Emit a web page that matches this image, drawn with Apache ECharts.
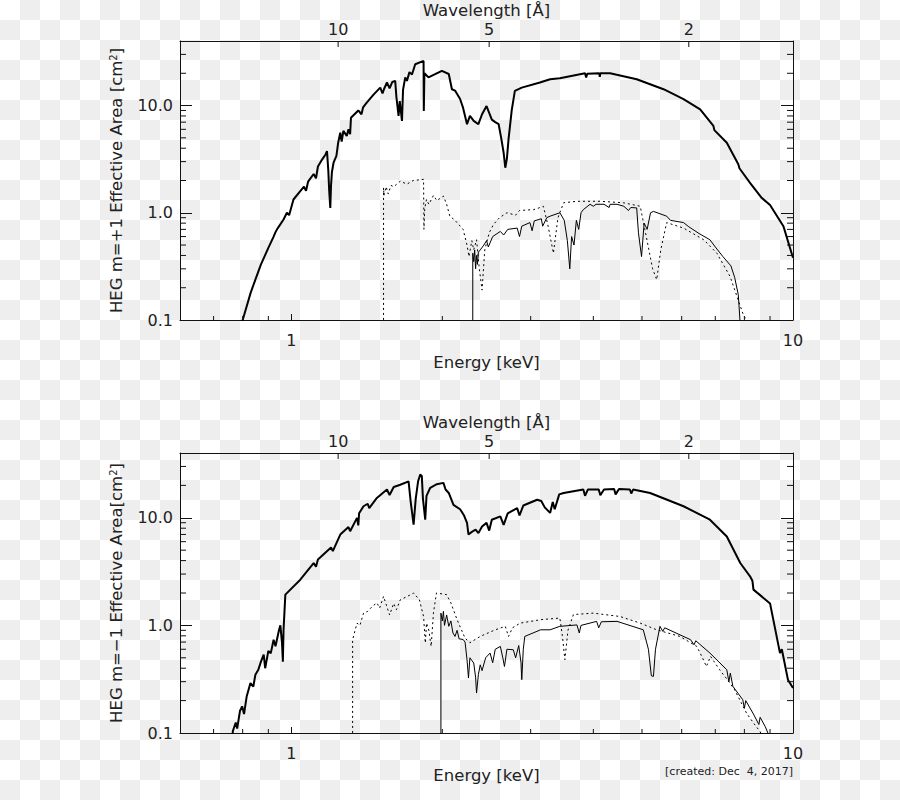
<!DOCTYPE html>
<html><head><meta charset="utf-8">
<script src="https://cdn.jsdelivr.net/npm/echarts@6/dist/echarts.min.js"></script>
<style>
html,body{margin:0;padding:0;}
body{width:900px;height:800px;background-color:#fff;background-image:conic-gradient(#eee 0 25%, #fff 0 50%, #eee 0 75%, #fff 0);background-size:40px 40px;}
#chart{width:900px;height:800px;}
</style></head><body><div id="chart"></div>
<script>
// ---------------- data ----------------
const HC = 12.398; // keV * Angstrom
const X_MIN = 0.6, X_MAX = 10, Y_MIN = 0.1, Y_MAX = 40;
const wavelengthTicks = [10, 5, 2];
const xMinorTicks = [0.7, 0.8, 0.9, 2, 3, 4, 5, 6, 7, 8, 9];
const yMinorTicks = [0.2,0.3,0.4,0.5,0.6,0.7,0.8,0.9,2,3,4,5,6,7,8,9,20,30];

// Panel 1 (m=+1) thick curve
const p1ThickE = [0.795,0.80,0.83,0.848,0.87,0.90,0.922,0.93,0.94,0.965,0.98,0.99,1.01,1.042,1.06,1.07,1.08,1.108,1.12,1.13,1.15,1.17,1.178,1.185,1.19,1.196,1.20,1.205,1.214,1.23,1.24,1.252,1.26,1.27,1.29,1.30,1.31,1.315,1.36,1.38,1.39,1.415,1.46,1.504,1.52,1.53,1.551,1.57,1.59,1.611,1.62,1.636,1.645,1.662,1.67,1.687,1.70,1.72,1.74,1.766,1.835,1.837,1.842,1.877,1.93,1.996,2.06,2.09,2.12,2.17,2.20,2.24,2.27,2.31,2.36,2.40,2.45,2.51,2.55,2.59,2.62,2.65,2.67,2.69,2.71,2.75,2.79,2.88,3.13,3.28,3.43,3.85,3.87,3.89,4.11,4.12,4.13,4.32,4.88,5.52,6.05,6.53,6.94,6.97,7.38,7.78,7.82,8.21,8.66,9.0,9.57,10.0];
const p1ThickA = [0.09,0.10,0.18,0.238,0.33,0.47,0.60,0.66,0.72,0.866,1.0,0.95,1.33,1.59,1.75,1.6,1.95,2.3,2.1,2.7,3.1,3.5,3.76,2.5,1.6,1.11,1.8,2.4,2.93,3.4,4.5,5.59,4.6,5.8,5.2,6.0,5.4,7.7,9.0,8.3,9.6,10.7,12.7,14.7,13.0,14.2,16.4,14.5,16.6,17.0,12.0,8.0,11.0,7.2,14.0,18.3,17.0,20.5,19.5,24.3,26.1,8.9,20.0,18.3,19.5,21.1,19.7,14.2,13.8,11.5,9.5,6.7,8.0,7.2,6.7,8.3,9.9,7.4,7.0,6.7,5.0,3.63,2.63,3.2,4.84,9.0,13.7,14.7,16.4,17.6,18.0,20.0,18.3,19.8,20.0,18.5,20.0,20.0,17.6,14.2,11.5,9.2,6.45,5.9,4.5,2.83,2.6,1.9,1.38,1.18,0.75,0.38];
// Panel 1 thin curve
const p1ThinE = [2.30,2.30,2.31,2.32,2.33,2.34,2.35,2.36,2.38,2.42,2.45,2.47,2.52,2.61,2.65,2.70,2.82,2.85,2.88,2.99,3.02,3.05,3.15,3.17,3.23,3.28,3.43,3.50,3.55,3.59,3.62,3.66,3.70,3.74,3.78,3.82,3.94,4.0,4.05,4.20,4.30,4.32,4.46,4.60,4.70,4.75,4.88,4.92,4.99,5.05,5.12,5.20,5.27,5.60,5.70,6.05,6.20,6.50,6.83,7.0,7.25,7.52,7.65,7.78,7.85];
const p1ThinA = [0.09,0.42,0.35,0.45,0.30,0.40,0.33,0.43,0.45,0.50,0.55,0.48,0.60,0.67,0.62,0.70,0.72,0.60,0.75,0.81,0.68,0.84,0.88,0.75,0.90,0.93,1.0,0.85,0.55,0.30,0.60,0.50,0.85,0.70,1.0,1.07,1.2,1.15,1.2,1.2,1.12,1.2,1.2,1.15,1.05,1.12,1.11,0.65,0.39,0.80,0.70,1.0,1.03,0.93,0.85,0.81,0.74,0.64,0.56,0.48,0.39,0.32,0.25,0.172,0.09];
// Panel 1 dotted curve
const p1DotE = [1.527,1.527,1.53,1.545,1.56,1.58,1.60,1.649,1.70,1.75,1.835,1.838,1.845,1.86,1.88,1.92,1.95,2.01,2.04,2.07,2.12,2.20,2.24,2.26,2.29,2.31,2.34,2.37,2.40,2.43,2.48,2.53,2.60,2.69,2.80,2.85,3.04,3.10,3.18,3.25,3.33,3.40,3.49,3.71,4.13,4.59,4.96,5.10,5.25,5.35,5.45,5.60,6.05,6.64,7.05,7.49,7.94,8.15];
const p1DotA = [0.09,1.71,1.45,1.75,1.5,1.8,1.75,1.97,1.85,2.0,2.05,0.70,1.1,1.33,1.2,1.45,1.3,1.43,1.2,0.93,0.85,0.70,0.5,0.39,0.55,0.45,0.56,0.3,0.19,0.45,0.65,0.78,0.9,1.0,0.95,1.05,1.07,1.1,1.15,0.75,0.42,0.9,1.24,1.28,1.28,1.24,1.15,0.6,0.3,0.238,0.45,0.81,0.72,0.56,0.42,0.255,0.116,0.09];

// Panel 2 (m=-1) thick curve
const p2ThickE = [0.762,0.765,0.775,0.78,0.79,0.798,0.805,0.815,0.829,0.84,0.848,0.86,0.87,0.881,0.887,0.90,0.91,0.922,0.93,0.945,0.951,0.958,0.962,0.965,0.973,1.042,1.108,1.12,1.13,1.20,1.21,1.252,1.30,1.31,1.352,1.36,1.365,1.393,1.42,1.43,1.481,1.551,1.57,1.60,1.649,1.713,1.73,1.753,1.77,1.79,1.807,1.82,1.83,1.849,1.86,1.892,1.95,2.01,2.03,2.06,2.105,2.17,2.21,2.24,2.255,2.29,2.33,2.36,2.40,2.45,2.48,2.51,2.61,2.65,2.70,2.82,2.85,2.90,3.09,3.15,3.20,3.28,3.32,3.35,3.42,3.49,3.82,3.85,3.90,4.10,4.13,4.20,4.40,4.43,4.50,4.73,4.76,4.80,5.19,6.05,6.83,7.38,7.85,8.21,8.30,8.34,9.0,9.42,9.5,9.77,10.0];
const p2ThickA = [0.09,0.105,0.125,0.11,0.16,0.177,0.15,0.22,0.291,0.27,0.348,0.39,0.46,0.534,0.40,0.58,0.55,0.736,0.64,0.9,1.0,0.7,0.46,0.9,1.93,2.66,3.8,3.5,4.1,5.3,4.9,6.98,8.2,7.5,9.98,8.5,11.0,12.8,13.5,12.3,15.3,18.3,16.3,19.3,20.3,21.8,14.0,8.64,15.0,22.0,25.2,24.5,15.0,9.6,16.0,19.0,20.5,21.1,18.3,17.0,13.2,12.0,10.5,8.97,6.98,7.4,7.75,7.2,8.3,8.97,7.6,9.6,10.3,8.6,11.0,12.3,10.5,13.0,14.7,14.3,12.5,11.1,14.0,12.0,16.5,17.0,18.3,16.0,18.3,18.3,16.2,18.3,18.5,16.5,18.5,18.3,16.8,18.3,17.0,12.8,9.6,6.7,3.8,2.86,2.6,2.15,1.6,0.553,0.6,0.313,0.262];
// Panel 2 thin curve
const p2ThinE = [1.987,1.987,2.00,2.01,2.02,2.04,2.06,2.08,2.10,2.12,2.14,2.16,2.20,2.22,2.24,2.255,2.27,2.31,2.33,2.34,2.36,2.38,2.40,2.44,2.49,2.52,2.55,2.61,2.64,2.66,2.69,2.77,2.80,2.84,2.87,2.88,2.90,2.92,3.14,3.28,3.43,3.71,3.75,3.78,4.06,4.10,4.15,4.46,5.03,5.15,5.22,5.27,5.32,5.43,5.50,5.55,6.25,6.35,6.40,6.83,7.38,7.45,7.50,7.59,7.94,8.0,8.05,8.34,8.55,8.6,8.8,9.0];
const p2ThinA = [0.09,1.30,1.1,1.35,1.0,1.25,0.98,1.1,0.85,0.79,0.9,0.75,0.74,0.7,0.48,0.324,0.5,0.447,0.33,0.235,0.35,0.43,0.38,0.5,0.553,0.45,0.6,0.638,0.5,0.415,0.6,0.594,0.5,0.65,0.45,0.313,0.6,0.79,0.91,0.91,0.98,1.01,0.85,1.0,1.09,0.95,1.08,1.09,0.91,0.6,0.34,0.336,0.6,0.98,0.88,0.95,0.736,0.66,0.72,0.553,0.387,0.30,0.36,0.271,0.204,0.17,0.2,0.15,0.12,0.14,0.115,0.09];
// Panel 2 dotted curve
const p2DotE = [1.325,1.325,1.34,1.352,1.37,1.393,1.42,1.45,1.481,1.50,1.527,1.55,1.57,1.60,1.62,1.649,1.70,1.753,1.80,1.835,1.85,1.86,1.88,1.90,1.92,1.947,2.04,2.08,2.14,2.22,2.27,2.38,2.55,2.67,2.71,2.76,2.86,3.14,3.43,3.47,3.51,3.56,3.65,4.0,4.52,4.96,5.35,5.95,6.43,6.60,6.72,6.85,7.14,7.40,7.65,8.08,8.34,8.6,8.7];
const p2DotA = [0.09,0.736,0.9,1.05,1.0,1.30,1.35,1.5,1.62,1.45,1.86,1.5,1.25,1.6,1.4,1.73,1.85,2.0,1.73,1.21,0.686,1.05,0.9,0.638,1.3,2.0,1.93,1.62,1.13,0.76,0.69,0.79,0.91,0.98,0.79,0.95,1.05,1.13,1.17,0.8,0.48,0.9,1.26,1.30,1.21,1.05,0.91,0.79,0.638,0.5,0.415,0.515,0.387,0.313,0.252,0.153,0.124,0.103,0.09];

const panelNames = ['HEG m=+1 Effective Area [cm{s|2}]', 'HEG m=\u22121 Effective Area[cm{s|2}]'];
const panels = [
  {thick:[p1ThickE,p1ThickA], thin:[p1ThinE,p1ThinA], dot:[p1DotE,p1DotA]},
  {thick:[p2ThickE,p2ThickA], thin:[p2ThinE,p2ThinA], dot:[p2DotE,p2DotA]}
];

// ---------------- chart ----------------
const FONT = 'DejaVu Sans';
const TXT = '#222';
const NAME_FS = 16.5, TICK_FS = 16;
const chart = echarts.init(document.getElementById('chart'), null, {renderer:'svg'});
const pairs = (e, a) => e.map((v, i) => [v, a[i]]);
const isPow10 = v => { const l = Math.log10(v); return Math.abs(l - Math.round(l)) < 1e-6; };

const grids = [
  {left:180, top:41, width:613, height:279},
  {left:180, top:453, width:613, height:280}
];
const xAxes = [], yAxes = [], series = [];
const axisLine = {show:true, onZero:false, lineStyle:{color:'#111', width:1}};
grids.forEach((g, gi) => {
  xAxes.push({type:'log', gridIndex:gi, position:'bottom', min:X_MIN, max:X_MAX, logBase:10,
    name:'Energy [keV]', nameLocation:'middle', nameGap:34,
    nameTextStyle:{fontSize:NAME_FS, fontFamily:FONT, color:TXT},
    axisLine, axisTick:{show:true, inside:true, length:6, lineStyle:{color:'#111'}},
    axisLabel:{margin:12, fontSize:TICK_FS, fontFamily:FONT, color:TXT, formatter: v => isPow10(v) ? String(Math.round(v)) : ''},
    splitLine:{show:false}, minorTick:{show:false}});
  xAxes.push({type:'log', gridIndex:gi, position:'top', min:X_MIN, max:X_MAX, logBase:10,
    name:'Wavelength [\u00c5]', nameLocation:'middle', nameGap:24,
    nameTextStyle:{fontSize:NAME_FS, fontFamily:FONT, color:TXT, lineHeight:14},
    axisLine, axisTick:{show:false}, axisLabel:{show:false}, splitLine:{show:false}});
  yAxes.push({type:'log', gridIndex:gi, position:'left', min:Y_MIN, max:Y_MAX, logBase:10,
    name:panelNames[gi], nameLocation:'middle', nameGap:55,
    nameTextStyle:{fontSize:NAME_FS, fontFamily:FONT, color:TXT, rich:{s:{fontSize:10, fontFamily:FONT, color:TXT, verticalAlign:'top', lineHeight:10}}},
    axisLine, axisTick:{show:true, inside:true, length:12, lineStyle:{color:'#111'}},
    axisLabel:{margin:7, fontSize:TICK_FS, fontFamily:FONT, color:TXT, formatter: v => isPow10(v) ? v.toFixed(1) : ''},
    splitLine:{show:false}});
  yAxes.push({type:'log', gridIndex:gi, position:'right', min:Y_MIN, max:Y_MAX, logBase:10,
    axisLine, axisTick:{show:true, inside:true, length:12, lineStyle:{color:'#111'}},
    axisLabel:{show:false}, splitLine:{show:false}});

  const P = panels[gi];
  const base = {type:'line', xAxisIndex:gi*2, yAxisIndex:gi*2, symbol:'none', showSymbol:false,
    silent:true, animation:false, clip:true, smooth:false};
  series.push(Object.assign({}, base, {data:pairs(P.thick[0], P.thick[1]), lineStyle:{color:'#000', width:2}, z:4}));
  series.push(Object.assign({}, base, {data:pairs(P.thin[0], P.thin[1]), lineStyle:{color:'#000', width:1}, z:3}));
  series.push(Object.assign({}, base, {data:pairs(P.dot[0], P.dot[1]), lineStyle:{color:'#000', width:1, type:[2,3]}, z:3}));

  // minor ticks on bottom energy axis
  series.push({type:'custom', xAxisIndex:gi*2, yAxisIndex:gi*2, silent:true, animation:false, z:5,
    data: xMinorTicks.map(v => [v, Y_MIN]),
    renderItem: (p, api) => {
      const c = api.coord([api.value(0), api.value(1)]);
      return {type:'line', shape:{x1:c[0], y1:c[1], x2:c[0], y2:c[1]-4}, style:{stroke:'#111', lineWidth:1}};
    }});
  // minor ticks on both area axes
  series.push({type:'custom', xAxisIndex:gi*2, yAxisIndex:gi*2, silent:true, animation:false, z:5,
    data: yMinorTicks.map(v => [X_MIN, v]),
    renderItem: (p, api) => {
      const v = api.value(1);
      const a = api.coord([X_MIN, v]), b = api.coord([X_MAX, v]);
      return {type:'group', children:[
        {type:'line', shape:{x1:a[0], y1:a[1], x2:a[0]+6, y2:a[1]}, style:{stroke:'#111', lineWidth:1}},
        {type:'line', shape:{x1:b[0], y1:b[1], x2:b[0]-6, y2:b[1]}, style:{stroke:'#111', lineWidth:1}}
      ]};
    }});
  // wavelength ticks + labels on the top axis
  series.push({type:'custom', xAxisIndex:gi*2+1, yAxisIndex:gi*2, silent:true, animation:false, z:5,
    dimensions:['e','a','l'], encode:{x:0, y:1},
    data: wavelengthTicks.map(l => [HC / l, Y_MAX, l]),
    renderItem: (p, api) => {
      const c = api.coord([api.value(0), api.value(1)]);
      return {type:'group', children:[
        {type:'line', shape:{x1:c[0], y1:c[1], x2:c[0], y2:c[1]+6}, style:{stroke:'#111', lineWidth:1}},
        {type:'text', x:c[0], y:c[1]-5, style:{text:String(api.value(2)), fontSize:TICK_FS, fontFamily:FONT, fill:TXT,
          lineHeight:14, align:'center', verticalAlign:'bottom', textAlign:'center', textVerticalAlign:'bottom'}}
      ]};
    }});
});

chart.setOption({
  animation:false,
  backgroundColor:'transparent',
  title:[{text:'[created: Dec  4, 2017]', right:102, top:761, padding:5,
    textStyle:{fontSize:11, fontWeight:'normal', fontFamily:FONT, color:TXT}}],
  grid: grids,
  xAxis: xAxes,
  yAxis: yAxes,
  series
});
</script></body></html>
